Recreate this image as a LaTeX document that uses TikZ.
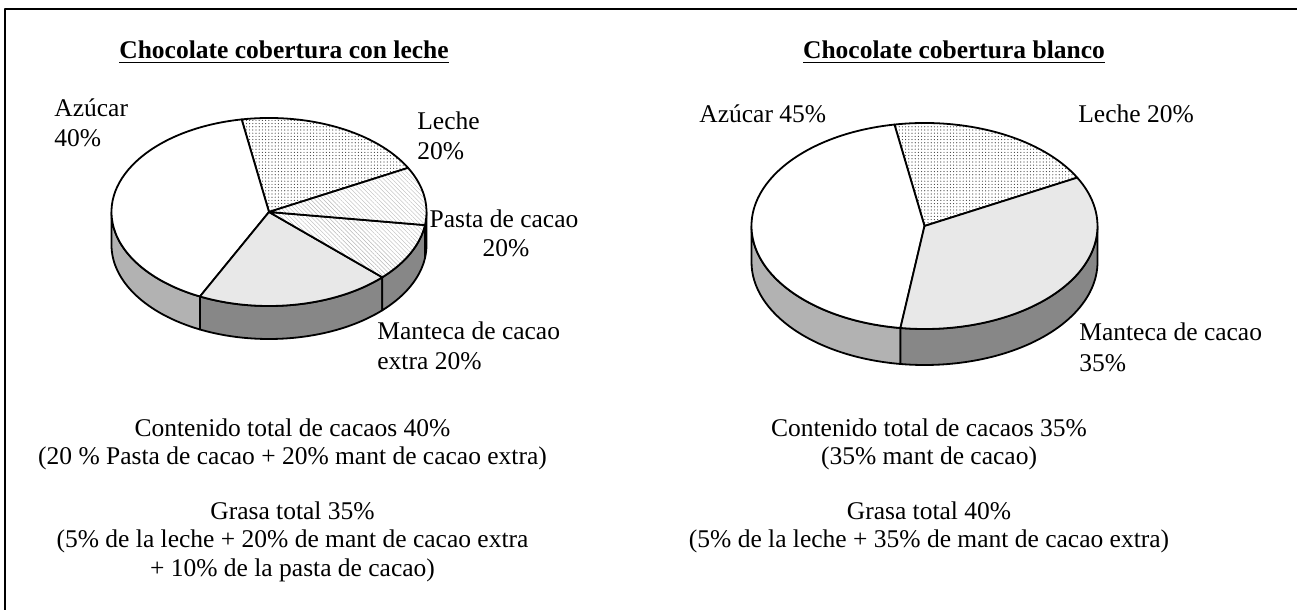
\documentclass[tikz,border=0pt]{standalone}
\usepackage{fontspec}
\setmainfont{Liberation Serif}
\usetikzlibrary{patterns.meta}

\begin{document}
\begin{tikzpicture}[x=0.5pt, y=0.5pt, line join=round,
    ttl/.style={font=\fontsize{12.75}{15.5}\selectfont\bfseries, anchor=base, inner sep=0pt},
    txt/.style={font=\fontsize{12.75}{15.5}\selectfont, anchor=base, inner sep=0pt},
    lbl/.style={font=\fontsize{12.75}{15.5}\selectfont, anchor=base west, inner sep=0pt},
    rim/.style={draw, line width=0.9pt},
    azucar/.style={rim, fill=white},
    leche/.style={rim, preaction={fill=white}, pattern={Dots[radius=0.3pt, distance=1.6pt]}, pattern color=black!75},
    pasta/.style={rim, preaction={fill=white}, pattern={Lines[angle=-45, distance=1.5pt, line width=0.2pt]}, pattern color=black!28},
    manteca/.style={rim, fill=black!9},
    sidea/.style={rim, fill=black!30},
    sideb/.style={rim, fill=black!47}]
    \useasboundingbox (0,0) rectangle (1297,610);
    \draw[line width=1pt] (5,0) -- (5,601) -- (1297,601);

    % con leche
    \coordinate (pl) at (269,398);
    \foreach \a/\b/\st in {180/244/sidea, 244/316/sideb, 316/352/sideb, 352/360/sideb}
        \draw[style=\st] (pl) ++(\a:157.5 and 94) arc[start angle=\a, end angle=\b, x radius=157.5, y radius=94] -- ++(0,-33) arc[start angle=\b, end angle=\a, x radius=157.5, y radius=94] -- cycle;
    \foreach \a/\b/\st in {28/100/leche, 100/244/azucar, 244/316/manteca, 316/352/pasta, 352/388/pasta}
        \draw[style=\st] (pl) -- ++(\a:157.5 and 94) arc[start angle=\a, end angle=\b, x radius=157.5, y radius=94] -- cycle;

    % blanco
    \coordinate (pr) at (924.5,384);
    \foreach \a/\b/\st in {180/262/sidea, 262/360/sideb}
        \draw[style=\st] (pr) ++(\a:173 and 103) arc[start angle=\a, end angle=\b, x radius=173, y radius=103] -- ++(0,-36) arc[start angle=\b, end angle=\a, x radius=173, y radius=103] -- cycle;
    \foreach \a/\b/\st in {28/100/leche, 100/262/azucar, 262/388/manteca}
        \draw[style=\st] (pr) -- ++(\a:173 and 103) arc[start angle=\a, end angle=\b, x radius=173, y radius=103] -- cycle;

    \node[ttl] (tl) at (284,551) {\underline{Chocolate cobertura con leche}};
    \node[ttl] (tr) at (954,551) {\underline{Chocolate cobertura blanco}};

    \node[lbl] (az1) at (54,493) {Azúcar};
    \node[lbl] (az2) at (54,463) {40\%};
    \node[lbl] (le1) at (417,480) {Leche};
    \node[lbl] (le2) at (417,450) {20\%};
    \node[txt] (pa1) at (504,382) {Pasta de cacao};
    \node[txt] (pa2) at (506,353) {20\%};
    \node[lbl] (ma1) at (377,270) {Manteca de cacao};
    \node[lbl] (ma2) at (377,240) {extra 20\%};

    \node[lbl] (bz) at (699,487) {Azúcar 45\%};
    \node[lbl] (bl) at (1078,487) {Leche 20\%};
    \node[lbl] (bm1) at (1079,269) {Manteca de cacao};
    \node[lbl] (bm2) at (1079,238) {35\%};

    \node[txt] (c1) at (292.5,173) {Contenido total de cacaos 40\%};
    \node[txt] (c2) at (292.5,145) {(20 \% Pasta de cacao + 20\% mant de cacao extra)};
    \node[txt] (g1) at (292.5,90) {Grasa total 35\%};
    \node[txt] (g2) at (292.5,62) {(5\% de la leche + 20\% de mant de cacao extra};
    \node[txt] (g3) at (292.5,33) {+ 10\% de la pasta de cacao)};

    \node[txt] (d1) at (929,173) {Contenido total de cacaos 35\%};
    \node[txt] (d2) at (929,145) {(35\% mant de cacao)};
    \node[txt] (h1) at (929,90) {Grasa total 40\%};
    \node[txt] (h2) at (929,62) {(5\% de la leche + 35\% de mant de cacao extra)};
\end{tikzpicture}
\end{document}
